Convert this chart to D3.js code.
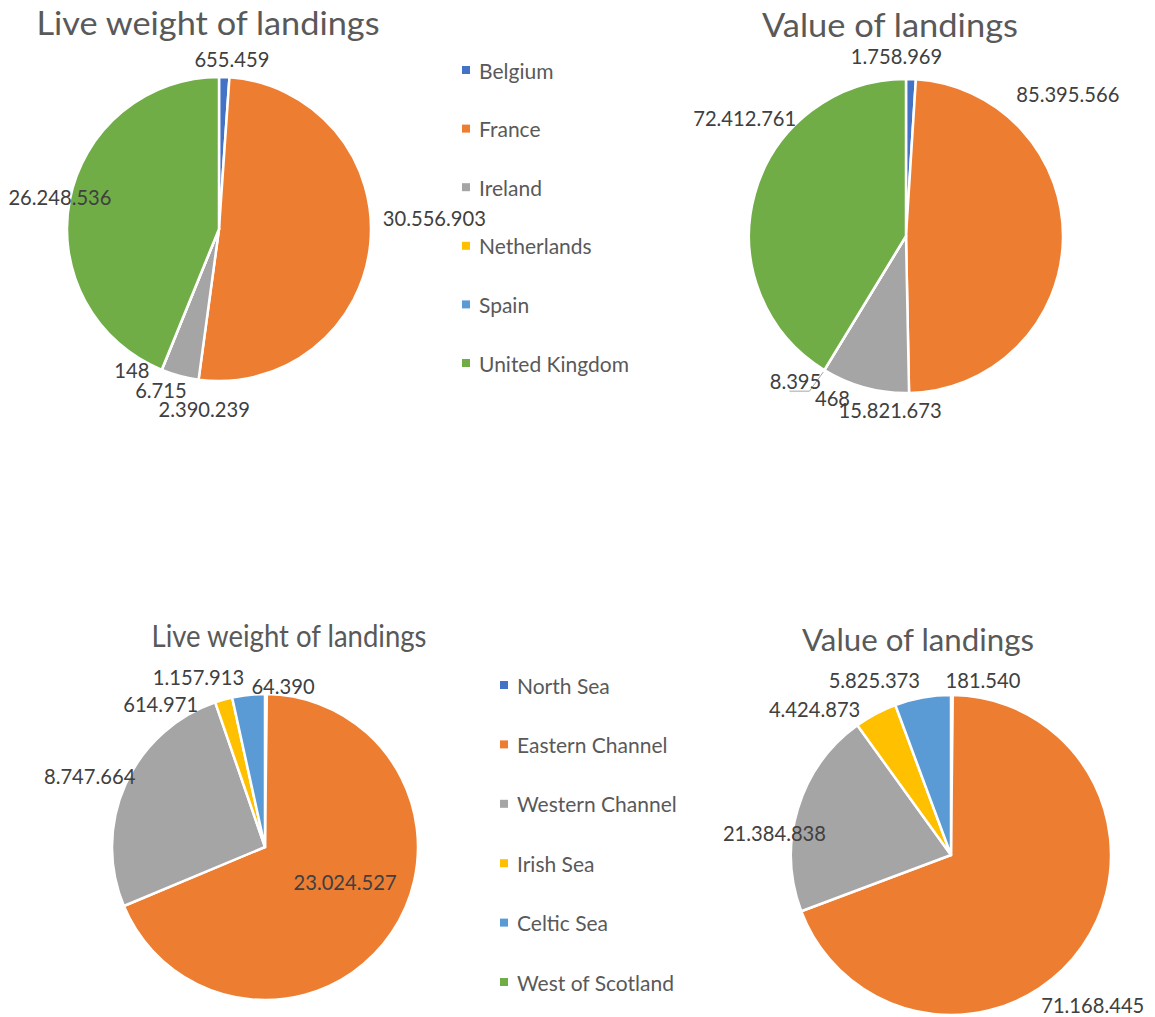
<!DOCTYPE html>
<html>
<head>
<meta charset="utf-8">
<script src="https://cdn.jsdelivr.net/npm/d3@7"></script>
<style>
  html, body { margin: 0; padding: 0; background: #fff; }
  svg { display: block; font-family: Lato, "Open Sans", sans-serif; }
</style>
</head>
<body>
<svg id="chart" width="1155" height="1017"></svg>
<script>
// Landings by flag country
const countries = ["Belgium", "France", "Ireland", "Netherlands", "Spain", "United Kingdom"];
const weightByCountry = [655459, 30556903, 2390239, 6715, 148, 26248536];
const valueByCountry = [1758969, 85395566, 15821673, 468, 8395, 72412761];

// Landings by sea area
const areas = ["North Sea", "Eastern Channel", "Western Channel", "Irish Sea", "Celtic Sea", "West of Scotland"];
const weightByArea = [64390, 23024527, 8747664, 614971, 1157913, null];
const valueByArea = [181540, 71168445, 21384838, 4424873, 5825373, null];

const titles = ["Live weight of landings", "Value of landings"];
const palette = ["#4472C4", "#ED7D31", "#A5A5A5", "#FFC000", "#5B9BD5", "#70AD47"];

// Layout of each pie panel: centre, radius, title box and per-label nudges
const panels = [
  { names: countries, values: weightByCountry, title: titles[0], cx: 219, cy: 229, r: 152,
    titleX: 208, titleY: 35, titleSize: 32, titleWidth: 343,
    nudges: [[7, 0], [46, -29], [29, 15], [6, 3], [-23, -17], [8, 0]] },
  { names: countries, values: valueByCountry, title: titles[1], cx: 906, cy: 236, r: 157,
    titleX: 890, titleY: 37, titleSize: 32, titleWidth: 256,
    nudges: [[-15, -5], [-14, -146], [30, 4], [18, 11], [-19, -6], [8, -71]], leader: [4] },
  { names: areas, values: weightByArea, title: titles[0], cx: 265, cy: 847, r: 153,
    titleX: 289, titleY: 647, titleSize: 30, titleWidth: 275,
    nudges: [[17, 10], [-62, -61], [-19, -1], [-58, 21], [-48, 0], [0, 0]] },
  { names: areas, values: valueByArea, title: titles[1], cx: 951, cy: 855, r: 160,
    titleX: 918, titleY: 651, titleSize: 30, titleWidth: 232,
    nudges: [[31, 4], [-5, 47], [-5, 29], [-52, 12], [-45, 1], [0, 0]] }
];

const legends = [
  { names: countries, x: 462, y0: 70, step: 58.6 },
  { names: areas, x: 500, y0: 685, step: 59.4 }
];

const svg = d3.select("#chart");
const color = d3.scaleOrdinal().range(palette);
const fmt = v => d3.format(",")(v).replace(/,/g, ".");

// Narrow the glyphs a little for a tighter, Calibri-like set
function condense(sel, k) {
  sel.each(function () {
    const w = this.getComputedTextLength();
    this.setAttribute("textLength", w * k);
    this.setAttribute("lengthAdjust", "spacingAndGlyphs");
  });
}

const pie = d3.pie().sort(null).value(d => d.value == null ? 0 : d.value);

panels.forEach(p => {
  color.domain(p.names);
  const data = p.names.map((name, i) => ({ name, value: p.values[i], i }));
  const arcs = pie(data);
  const arc = d3.arc().innerRadius(0).outerRadius(p.r);

  const g = svg.append("g").attr("transform", `translate(${p.cx},${p.cy})`);

  g.selectAll("path.slice")
    .data(arcs.filter(a => a.data.value))
    .join("path")
    .attr("class", "slice")
    .attr("d", arc)
    .attr("fill", a => color(a.data.name))
    .attr("stroke", "#fff")
    .attr("stroke-width", 2.5)
    .attr("stroke-linejoin", "round");

  // Data labels placed just beyond the slice edge along its mid-angle
  const labelR = p.r * 1.12;
  const labels = arcs.filter(a => a.data.value != null).map(a => {
    const mid = (a.startAngle + a.endAngle) / 2;
    const n = p.nudges[a.data.i];
    return {
      a, mid,
      x: Math.sin(mid) * labelR + n[0],
      y: -Math.cos(mid) * labelR + n[1]
    };
  });

  if (p.leader) {
    p.leader.forEach(idx => {
      const l = labels.find(o => o.a.data.i === idx);
      if (!l) return;
      const ex = Math.sin(l.mid) * p.r, ey = -Math.cos(l.mid) * p.r;
      g.append("path")
        .attr("d", `M${l.x - 6},${l.y + 11}L${l.x + 14},${l.y + 11}L${ex - 1},${ey + 2}`)
        .attr("fill", "none")
        .attr("stroke", "#A6A6A6")
        .attr("stroke-width", 1);
    });
  }

  g.selectAll("text.label")
    .data(labels)
    .join("text")
    .attr("class", "label")
    .attr("x", d => d.x)
    .attr("y", d => d.y)
    .attr("text-anchor", "middle")
    .attr("dominant-baseline", "central")
    .attr("font-size", 21)
    .attr("fill", "#404040")
    .text(d => fmt(d.a.data.value))
    .call(condense, 0.96);

  svg.append("text")
    .attr("x", p.titleX)
    .attr("y", p.titleY)
    .attr("text-anchor", "middle")
    .attr("font-size", p.titleSize)
    .attr("fill", "#595959")
    .attr("textLength", p.titleWidth)
    .attr("lengthAdjust", "spacingAndGlyphs")
    .text(p.title);
});

legends.forEach(L => {
  color.domain(L.names);
  const y = d3.scalePoint().domain(L.names).range([L.y0, L.y0 + L.step * (L.names.length - 1)]);
  const items = svg.append("g").selectAll("g")
    .data(L.names)
    .join("g")
    .attr("transform", d => `translate(${L.x},${y(d)})`);
  items.append("rect")
    .attr("x", 0).attr("y", -4)
    .attr("width", 8).attr("height", 8)
    .attr("fill", d => color(d));
  items.append("text")
    .attr("x", 17)
    .attr("y", 0)
    .attr("dominant-baseline", "central")
    .attr("font-size", 21)
    .attr("fill", "#595959")
    .text(d => d);
});
</script>
</body>
</html>
